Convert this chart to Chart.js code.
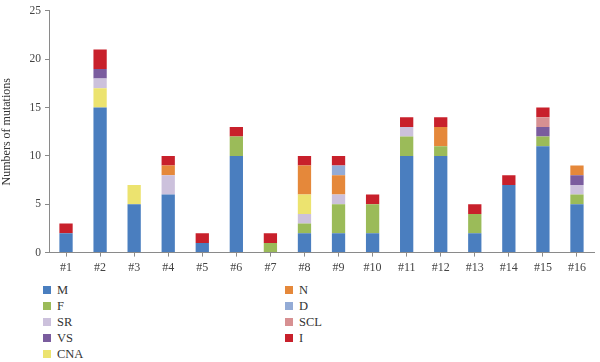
<!DOCTYPE html>
<html>
<head>
<meta charset="utf-8">
<script src="https://cdn.jsdelivr.net/npm/chart.js@4"></script>
<style>
  html, body { margin: 0; padding: 0; background: #fff; }
  #wrap { position: relative; width: 600px; height: 362px; }
  #box { position: absolute; left: 0; top: 0; width: 600px; height: 279px; }
  #legend { position: absolute; left: 0; top: 282px; width: 600px; height: 80px;
    font-family: "Liberation Serif", serif; font-size: 12.5px; color: #333; }
  .item { position: absolute; height: 16px; line-height: 16px; white-space: nowrap; }
  .item span { display: inline-block; width: 8px; height: 8px; margin-right: 6px; vertical-align: -0px; }
</style>
</head>
<body>
<div id="wrap">
  <div id="box"><canvas id="mutChart"></canvas></div>
  <div id="legend"></div>
</div>
<script>
const patients = ['#1', '#2', '#3', '#4', '#5', '#6', '#7', '#8', '#9', '#10', '#11', '#12', '#13', '#14', '#15', '#16'];

const M   = [2, 15, 5, 6, 1, 10, 0, 2, 2, 2, 10, 10, 2, 7, 11, 5];
const F   = [0, 0, 0, 0, 0, 2, 1, 1, 3, 3, 2, 1, 2, 0, 1, 1];
const SR  = [0, 1, 0, 2, 0, 0, 0, 1, 1, 0, 1, 0, 0, 0, 0, 1];
const VS  = [0, 1, 0, 0, 0, 0, 0, 0, 0, 0, 0, 0, 0, 0, 1, 1];
// CNA sits under SR in #2 but above it in #8, so it is split in two stacks
const cnaLower = [0, 2, 2, 0, 0, 0, 0, 0, 0, 0, 0, 0, 0, 0, 0, 0];
const cnaUpper = [0, 0, 0, 0, 0, 0, 0, 2, 0, 0, 0, 0, 0, 0, 0, 0];
const N   = [0, 0, 0, 1, 0, 0, 0, 3, 2, 0, 0, 2, 0, 0, 0, 1];
const D   = [0, 0, 0, 0, 0, 0, 0, 0, 1, 0, 0, 0, 0, 0, 0, 0];
const SCL = [0, 0, 0, 0, 0, 0, 0, 0, 0, 0, 0, 0, 0, 0, 1, 0];
const I   = [1, 2, 0, 1, 1, 1, 1, 1, 1, 1, 1, 1, 1, 1, 1, 0];

const yTicks = [0, 5, 10, 15, 20, 25];

const colors = {
    M: '#4a7ebf', F: '#9bbb59', SR: '#ccc1dc', VS: '#7a5c9e', CNA: '#ece36f',
    N: '#e5883a', D: '#93abd6', SCL: '#d79092', I: '#c8202b'
};

function ds(label, data) {
    return { label: label, data: data, backgroundColor: colors[label], borderWidth: 0,
             barPercentage: 0.78, categoryPercentage: 0.5 };
}

const serif = '"Liberation Serif", serif';

new Chart(document.getElementById('mutChart'), {
    type: 'bar',
    data: {
        labels: patients,
        datasets: [
            ds('M', M), ds('CNA', cnaLower), ds('F', F), ds('SR', SR), ds('VS', VS),
            ds('CNA', cnaUpper), ds('N', N), ds('D', D), ds('SCL', SCL), ds('I', I)
        ]
    },
    options: {
        responsive: true,
        maintainAspectRatio: false,
        animation: false,
        layout: { padding: { top: 4, right: 6, left: 0, bottom: 0 } },
        plugins: { legend: { display: false }, tooltip: { enabled: false } },
        scales: {
            x: {
                stacked: true,
                grid: { display: true, drawOnChartArea: false, offset: false, tickLength: 4, color: '#8a8a8a' },
                border: { color: '#8a8a8a', width: 1 },
                ticks: { color: '#444', font: { family: serif, size: 12 }, padding: 4, maxRotation: 0 }
            },
            y: {
                stacked: true,
                min: 0,
                max: 25,
                afterBuildTicks: (s) => { s.ticks = yTicks.map(v => ({ value: v })); },
                afterFit: (s) => { s.width = 49; },
                grid: { display: true, drawOnChartArea: false, tickLength: 4, color: '#8a8a8a' },
                border: { color: '#8a8a8a', width: 1 },
                ticks: { color: '#444', font: { family: serif, size: 11.5 }, padding: 4 },
                title: { display: true, text: 'Numbers of mutations', color: '#333',
                         font: { family: serif, size: 12 }, padding: { top: 0, bottom: 4 } }
            }
        }
    }
});

// two-column legend below the chart
const legendCols = [['M', 'F', 'SR', 'VS', 'CNA'], ['N', 'D', 'SCL', 'I']];
const legendX = [43, 285];
const legend = document.getElementById('legend');
legendCols.forEach((col, c) => {
    col.forEach((name, r) => {
        const div = document.createElement('div');
        div.className = 'item';
        div.style.left = legendX[c] + 'px';
        div.style.top = (r * 16) + 'px';
        div.innerHTML = '<span style="background:' + colors[name] + '"></span>' + name;
        legend.appendChild(div);
    });
});
</script>
</body>
</html>
